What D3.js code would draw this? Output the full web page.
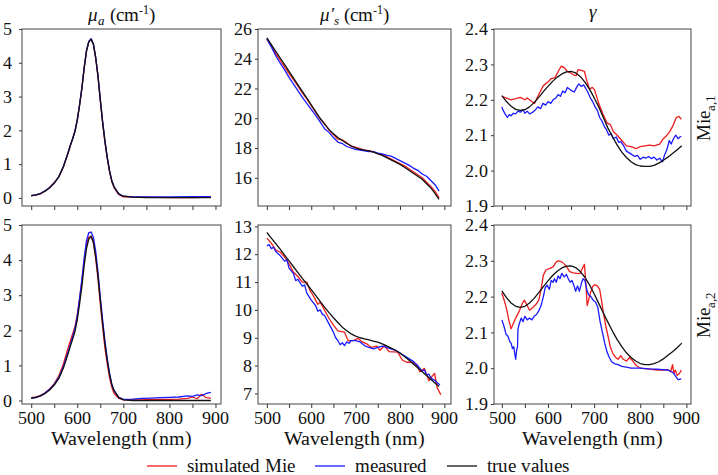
<!DOCTYPE html>
<html><head><meta charset="utf-8">
<script src="https://cdn.jsdelivr.net/npm/d3@7"></script>
<style>
@font-face{font-family:"ChartSerif";src:local("Liberation Serif"),local("LiberationSerif-Regular");font-style:normal;font-weight:400;}
@font-face{font-family:"ChartSerif";src:local("Liberation Serif Italic"),local("LiberationSerif-Italic");font-style:italic;font-weight:400;}
body{margin:0;background:#fff;}
#c text{font-family:"ChartSerif";}
</style>
</head>
<body><svg id="c" width="718" height="475"></svg>
<script>
// ---------- DATA ----------
const wlA = [500,510,520,530,540,550,560,570,580,585,590,595,600,605,610,615,620,625,630,635,640,645,650,655,660,665,670,675,680,690,700,720,750,800,850,890];
const muaTrue1 = [0.07,0.09,0.13,0.2,0.3,0.44,0.63,0.93,1.33,1.55,1.75,1.97,2.3,2.75,3.25,3.85,4.35,4.62,4.7,4.55,4.15,3.6,2.9,2.25,1.68,1.2,0.8,0.5,0.32,0.12,0.05,0.02,0.01,0.01,0.01,0.01];
const muaRed1  = [0.06,0.08,0.12,0.2,0.31,0.45,0.62,0.92,1.33,1.56,1.76,1.98,2.3,2.74,3.24,3.84,4.34,4.63,4.69,4.54,4.13,3.58,2.88,2.22,1.65,1.18,0.78,0.48,0.3,0.1,0.03,0.02,0.02,0.01,0.01,0.02];
const muaBlue1 = [0.07,0.09,0.13,0.21,0.3,0.44,0.63,0.94,1.34,1.56,1.75,1.98,2.31,2.76,3.26,3.86,4.36,4.63,4.71,4.56,4.16,3.61,2.91,2.26,1.69,1.21,0.81,0.51,0.33,0.12,0.05,0.03,0.03,0.03,0.04,0.04];

const wlA2 = [500,510,520,530,540,550,560,570,580,585,590,595,600,605,610,615,620,625,630,635,640,645,650,655,660,665,670,675,680,690,700,720,740,760,780,800,820,840,850,860,870,880,890];
const muaTrue2 = [0.07,0.09,0.13,0.2,0.3,0.44,0.63,0.93,1.33,1.55,1.75,1.97,2.3,2.75,3.25,3.85,4.33,4.6,4.68,4.5,4.1,3.55,2.85,2.2,1.62,1.15,0.75,0.45,0.28,0.09,0.02,0,0,0,0,0,0,0,0,0,0,0,0];
const muaRed2  = [0.08,0.1,0.14,0.22,0.33,0.48,0.7,1.05,1.5,1.7,1.9,2.1,2.45,2.9,3.4,4.0,4.45,4.65,4.68,4.5,4.05,3.45,2.75,2.1,1.5,1.05,0.65,0.38,0.2,0.06,0.02,0.02,0.02,0.03,0.03,0.03,0.04,0.06,0.1,0.05,0.18,0.08,0.07];
const muaBlue2 = [0.06,0.08,0.13,0.21,0.32,0.46,0.66,0.97,1.38,1.6,1.82,2.05,2.4,2.9,3.45,4.05,4.55,4.78,4.8,4.65,4.25,3.65,2.95,2.3,1.7,1.2,0.78,0.46,0.28,0.09,0.03,0.04,0.06,0.07,0.08,0.09,0.1,0.13,0.12,0.16,0.14,0.2,0.23];

const wlS = [500,510,520,530,540,550,560,570,580,590,600,610,620,630,640,650,660,670,680,690,700,710,720,730,740,750,760,770,780,790,800,810,820,830,840,850,860,870,880,888];
const musTrue1 = [25.4,24.95,24.5,24.05,23.6,23.15,22.7,22.25,21.8,21.35,20.9,20.45,20.0,19.6,19.25,18.95,18.7,18.5,18.3,18.15,18.0,17.9,17.85,17.8,17.72,17.62,17.5,17.35,17.2,17.05,16.9,16.7,16.5,16.3,16.1,15.9,15.6,15.3,14.9,14.55];
const musRed1  = [25.3,24.85,24.35,23.9,23.45,23.0,22.6,22.15,21.7,21.3,20.85,20.4,19.95,19.65,19.2,18.9,18.6,18.55,18.35,18.1,18.05,17.95,17.85,17.82,17.75,17.6,17.55,17.4,17.25,17.1,16.95,16.8,16.6,16.4,16.2,16.0,15.7,15.4,15.05,14.65];
const musBlue1 = [25.35,24.8,24.2,23.7,23.25,22.75,22.3,21.85,21.4,21.0,20.6,20.2,19.75,19.3,19.05,18.7,18.4,18.3,18.1,18.0,17.9,17.85,17.8,17.75,17.75,17.65,17.6,17.5,17.45,17.3,17.15,17.0,16.85,16.65,16.5,16.25,16.1,15.8,15.5,15.1];

const musTrue2 = [12.78,12.58,12.38,12.18,11.97,11.76,11.55,11.34,11.13,10.93,10.73,10.52,10.31,10.1,9.9,9.72,9.55,9.38,9.25,9.14,9.06,9.0,8.96,8.92,8.88,8.84,8.78,8.71,8.63,8.55,8.45,8.33,8.2,8.06,7.92,7.78,7.64,7.5,7.36,7.25];
const wlRedS2 = [500,510,520,530,540,550,560,570,580,590,597,605,615,620,628,640,650,660,675,683,695,705,715,725,735,748,755,765,775,795,805,815,830,840,845,855,865,872,878,884,892];
const musRed2 = [12.58,12.4,12.15,12.08,11.9,11.65,11.35,11.2,11.0,11.0,10.7,10.5,10.2,10.28,10.05,9.7,9.45,9.25,9.2,8.9,8.9,8.98,8.85,8.78,8.65,8.7,8.55,8.72,8.5,8.48,8.2,8.12,8.12,7.95,7.78,7.9,7.45,7.6,7.72,7.2,6.95];
const wlBlueS2 = [500,505,510,515,520,530,540,545,550,560,565,570,580,585,590,600,605,610,615,620,625,630,640,650,655,660,665,670,675,680,685,690,700,710,720,730,740,750,760,770,780,790,800,810,820,830,840,850,855,860,865,870,880,890];
const musBlue2 = [12.3,12.35,12.2,12.25,12.1,11.95,11.75,11.8,11.5,11.3,11.05,11.1,10.85,10.9,10.6,10.35,10.25,10.15,9.95,10.0,9.85,9.8,9.5,9.2,9.0,8.9,8.75,8.82,8.72,8.85,8.8,8.9,8.9,8.85,8.72,8.65,8.6,8.65,8.7,8.65,8.6,8.55,8.45,8.35,8.25,8.15,8.0,7.8,7.85,7.65,7.7,7.55,7.45,7.3];

const wlG = [500,510,520,530,540,550,560,570,580,590,600,610,620,630,640,650,660,670,680,690,700,710,720,730,740,750,760,770,780,790,800,810,820,830,840,850,860,870,880,890];
const gTrue1 = [2.212,2.195,2.182,2.173,2.17,2.172,2.18,2.192,2.207,2.223,2.238,2.252,2.264,2.273,2.279,2.28,2.276,2.266,2.25,2.23,2.206,2.18,2.15,2.12,2.095,2.072,2.052,2.037,2.025,2.017,2.013,2.012,2.012,2.015,2.021,2.029,2.038,2.048,2.059,2.07];
const gTrue2 = [2.216,2.197,2.182,2.173,2.17,2.173,2.182,2.195,2.211,2.228,2.244,2.259,2.271,2.28,2.285,2.286,2.281,2.27,2.254,2.233,2.208,2.181,2.154,2.128,2.103,2.08,2.06,2.043,2.03,2.02,2.013,2.01,2.01,2.013,2.018,2.026,2.036,2.046,2.057,2.07];
const wlRedG1 = [500,510,520,530,540,550,555,565,571,580,590,600,607,615,622,629,636,642,650,656,661,665,672,679,684,690,696,701,710,719,728,735,742,750,760,770,780,791,800,810,820,830,842,850,858,864,872,878,884,889];
const gRed1 = [2.21,2.205,2.2,2.203,2.207,2.2,2.205,2.195,2.19,2.215,2.24,2.25,2.26,2.262,2.28,2.295,2.29,2.28,2.275,2.27,2.268,2.285,2.283,2.28,2.255,2.23,2.235,2.228,2.19,2.16,2.135,2.13,2.11,2.1,2.085,2.07,2.068,2.062,2.068,2.07,2.072,2.07,2.075,2.09,2.1,2.11,2.13,2.15,2.153,2.145];
const wlBlueG1 = [500,503,507,512,516,520,525,530,535,540,546,550,555,560,567,573,578,584,589,595,600,606,611,617,622,627,632,637,642,647,652,657,662,667,672,677,682,687,692,697,702,707,712,717,722,727,732,737,742,748,753,758,764,770,776,782,788,794,800,806,812,818,824,830,836,842,848,853,858,863,867,872,877,882,886,889];
const gBlue1 = [2.18,2.17,2.16,2.15,2.158,2.155,2.162,2.16,2.168,2.165,2.172,2.162,2.168,2.16,2.165,2.172,2.18,2.175,2.19,2.185,2.195,2.19,2.2,2.205,2.215,2.21,2.225,2.22,2.235,2.23,2.225,2.222,2.235,2.245,2.238,2.242,2.232,2.22,2.205,2.195,2.18,2.17,2.15,2.14,2.125,2.115,2.1,2.105,2.09,2.095,2.08,2.082,2.07,2.055,2.05,2.045,2.04,2.043,2.032,2.038,2.035,2.04,2.034,2.038,2.03,2.035,2.025,2.045,2.06,2.085,2.075,2.09,2.1,2.09,2.095,2.097];
const wlRedG2 = [500,505,510,515,520,525,530,538,544,549,555,560,568,575,580,585,590,596,603,611,617,622,630,636,642,647,655,662,669,675,679,682,685,688,692,697,701,707,712,716,720,725,730,735,741,747,752,758,763,770,777,784,791,800,813,825,835,849,860,866,870,873,876,880,885,889];
const gRed2 = [2.21,2.19,2.167,2.135,2.11,2.125,2.14,2.16,2.18,2.19,2.175,2.162,2.17,2.18,2.19,2.22,2.26,2.275,2.278,2.283,2.295,2.3,2.297,2.29,2.28,2.27,2.266,2.265,2.264,2.28,2.29,2.24,2.175,2.19,2.21,2.228,2.233,2.23,2.22,2.19,2.155,2.12,2.09,2.06,2.04,2.03,2.025,2.035,2.025,2.02,2.03,2.02,2.008,2.0,1.998,1.997,1.995,1.995,1.996,1.99,2.01,1.985,1.995,1.98,1.985,1.995];
const wlBlueG2 = [500,504,509,513,517,520,523,526,528,530,532,534,535,538,542,546,550,555,560,565,570,575,580,585,590,594,598,603,607,611,614,618,622,626,630,635,640,644,648,652,656,660,664,668,672,676,680,684,688,693,698,703,708,713,718,723,728,733,738,745,752,760,770,780,800,820,840,860,868,873,878,882,889];
const gBlue2 = [2.135,2.12,2.095,2.09,2.075,2.07,2.055,2.06,2.04,2.025,2.05,2.06,2.11,2.125,2.14,2.13,2.145,2.135,2.14,2.135,2.145,2.15,2.16,2.175,2.2,2.225,2.232,2.22,2.245,2.24,2.25,2.24,2.258,2.25,2.265,2.255,2.262,2.25,2.24,2.245,2.232,2.215,2.23,2.215,2.235,2.25,2.245,2.22,2.205,2.2,2.19,2.185,2.17,2.13,2.1,2.07,2.045,2.03,2.018,2.012,2.01,2.005,2.003,2.0,2.0,1.998,1.997,1.995,1.99,1.985,1.975,1.968,1.97];

const xTicks = [500,550,600,650,700,750,800,850,900];
const xTickLabels = [500,600,700,800,900];
const yTicksMua = [0,1,2,3,4,5];
const yTicksMus1 = [16,18,20,22,24,26];
const yTicksMus2 = [7,8,9,10,11,12,13];
const yTicksG = [1.9,2.0,2.1,2.2,2.3,2.4];
const legendLabels = ["simulated Mie","measured","true values"];
const rowLabels = ["a,1","a,2"];

// ---------- LAYOUT ----------
const RED="#ee1c1c", BLUE="#1a1aff", BLACK="#111";
const cols=[{x0:22,x1:221,dom:[480,912]},{x0:258,x1:451,dom:[480,915]},{x0:494,x1:691,dom:[483,910]}];
const rows=[{y0:29,y1:206},{y0:225,y1:404}];
const svg=d3.select("#c");
const txt=(sel)=>sel.attr("fill","#111");

const panels=[
 {c:0,r:0,yd:[-0.24,5],yt:yTicksMua,fmt:d3.format("d"),s:[[wlA,muaRed1,RED],[wlA,muaBlue1,BLUE],[wlA,muaTrue1,BLACK]]},
 {c:1,r:0,yd:[14.1,26],yt:yTicksMus1,fmt:d3.format("d"),s:[[wlS,musRed1,RED],[wlS,musBlue1,BLUE],[wlS,musTrue1,BLACK]]},
 {c:2,r:0,yd:[1.9,2.4],yt:yTicksG,fmt:d3.format(".1f"),s:[[wlRedG1,gRed1,RED],[wlBlueG1,gBlue1,BLUE],[wlG,gTrue1,BLACK]]},
 {c:0,r:1,yd:[-0.1,5],yt:yTicksMua,fmt:d3.format("d"),s:[[wlA2,muaRed2,RED],[wlA2,muaBlue2,BLUE],[wlA2,muaTrue2,BLACK]]},
 {c:1,r:1,yd:[6.62,13.05],yt:yTicksMus2,fmt:d3.format("d"),s:[[wlRedS2,musRed2,RED],[wlBlueS2,musBlue2,BLUE],[wlS,musTrue2,BLACK]]},
 {c:2,r:1,yd:[1.9,2.4],yt:yTicksG,fmt:d3.format(".1f"),s:[[wlRedG2,gRed2,RED],[wlBlueG2,gBlue2,BLUE],[wlG,gTrue2,BLACK]]},
];

panels.forEach((p,i)=>{
  const C=cols[p.c], R=rows[p.r];
  const x=d3.scaleLinear().domain(C.dom).range([C.x0,C.x1]);
  const y=d3.scaleLinear().domain(p.yd).range([R.y1,R.y0]);
  const g=svg.append("g");
  g.append("clipPath").attr("id","cp"+i).append("rect")
    .attr("x",C.x0).attr("y",R.y0).attr("width",C.x1-C.x0).attr("height",R.y1-R.y0);
  const xa=d3.axisBottom(x).tickValues(xTicks).tickSize(4).tickSizeOuter(0).tickPadding(3)
    .tickFormat(d=> (p.r===1 && xTickLabels.includes(d)) ? d : "");
  const gx=g.append("g").attr("transform",`translate(0,${R.y1})`).call(xa).attr("font-family",null);
  gx.select(".domain").remove();
  gx.selectAll("line").attr("stroke","#333");
  txt(gx.selectAll("text").attr("font-size",18));
  const ya=d3.axisLeft(y).tickValues(p.yt).tickSize(3).tickSizeOuter(0).tickPadding(p.c===0?7:3).tickFormat(p.fmt);
  const gy=g.append("g").attr("transform",`translate(${C.x0},0)`).call(ya).attr("font-family",null);
  gy.select(".domain").remove();
  gy.selectAll("line").attr("stroke","#333");
  txt(gy.selectAll("text").attr("font-size",18));
  const lg=g.append("g").attr("clip-path",`url(#cp${i})`);
  p.s.forEach(([wl,vals,col])=>{
    const pts=wl.map((w,k)=>[w,vals[k]]);
    lg.append("path").datum(pts)
      .attr("fill","none").attr("stroke",col).attr("stroke-width",1.3).attr("stroke-linejoin","round")
      .attr("d",d3.line().x(d=>x(d[0])).y(d=>y(d[1])));
  });
  g.append("rect").attr("x",C.x0).attr("y",R.y0).attr("width",C.x1-C.x0).attr("height",R.y1-R.y0)
    .attr("fill","none").attr("stroke","#444").attr("stroke-width",1);
  if(p.r===1){
    txt(g.append("text").attr("x",(C.x0+C.x1)/2).attr("y",445).attr("text-anchor","middle")
      .attr("font-size",20)).text("Wavelength (nm)");
  }
});

function title(xc, y, main, sub){
  const t=txt(svg.append("text").attr("x",xc).attr("y",y).attr("text-anchor","middle").attr("font-size",19));
  t.append("tspan").attr("font-style","italic").text(main);
  t.append("tspan").attr("font-style","italic").attr("font-size",13).attr("dy",4).text(sub);
  t.append("tspan").attr("dy",-4).text(" (cm");
  t.append("tspan").attr("font-size",12).attr("dy",-7).text("-1");
  t.append("tspan").attr("dy",7).text(")");
}
title((cols[0].x0+cols[0].x1)/2, 21, "μ", "a");
title((cols[1].x0+cols[1].x1)/2, 21, "μ′", "s");
txt(svg.append("text").attr("x",(cols[2].x0+cols[2].x1)/2).attr("y",18).attr("text-anchor","middle")
  .attr("font-size",19).attr("font-style","italic")).text("γ");

rows.forEach((R,k)=>{
  const t=txt(svg.append("text").attr("transform",`translate(710,${(R.y0+R.y1)/2}) rotate(-90)`)
    .attr("text-anchor","middle").attr("font-size",19));
  t.append("tspan").text("Mie");
  t.append("tspan").attr("font-size",13).attr("dy",5).text(rowLabels[k]);
});

const legCols=[RED,BLUE,BLACK];
const legX=[147,315,447];
legendLabels.forEach((lab,k)=>{
  svg.append("line").attr("x1",legX[k]).attr("x2",legX[k]+30).attr("y1",466).attr("y2",466)
    .attr("stroke",legCols[k]).attr("stroke-width",1.3);
  txt(svg.append("text").attr("x",legX[k]+40).attr("y",472).attr("font-size",18.5)).text(lab);
});
</script></body></html>
